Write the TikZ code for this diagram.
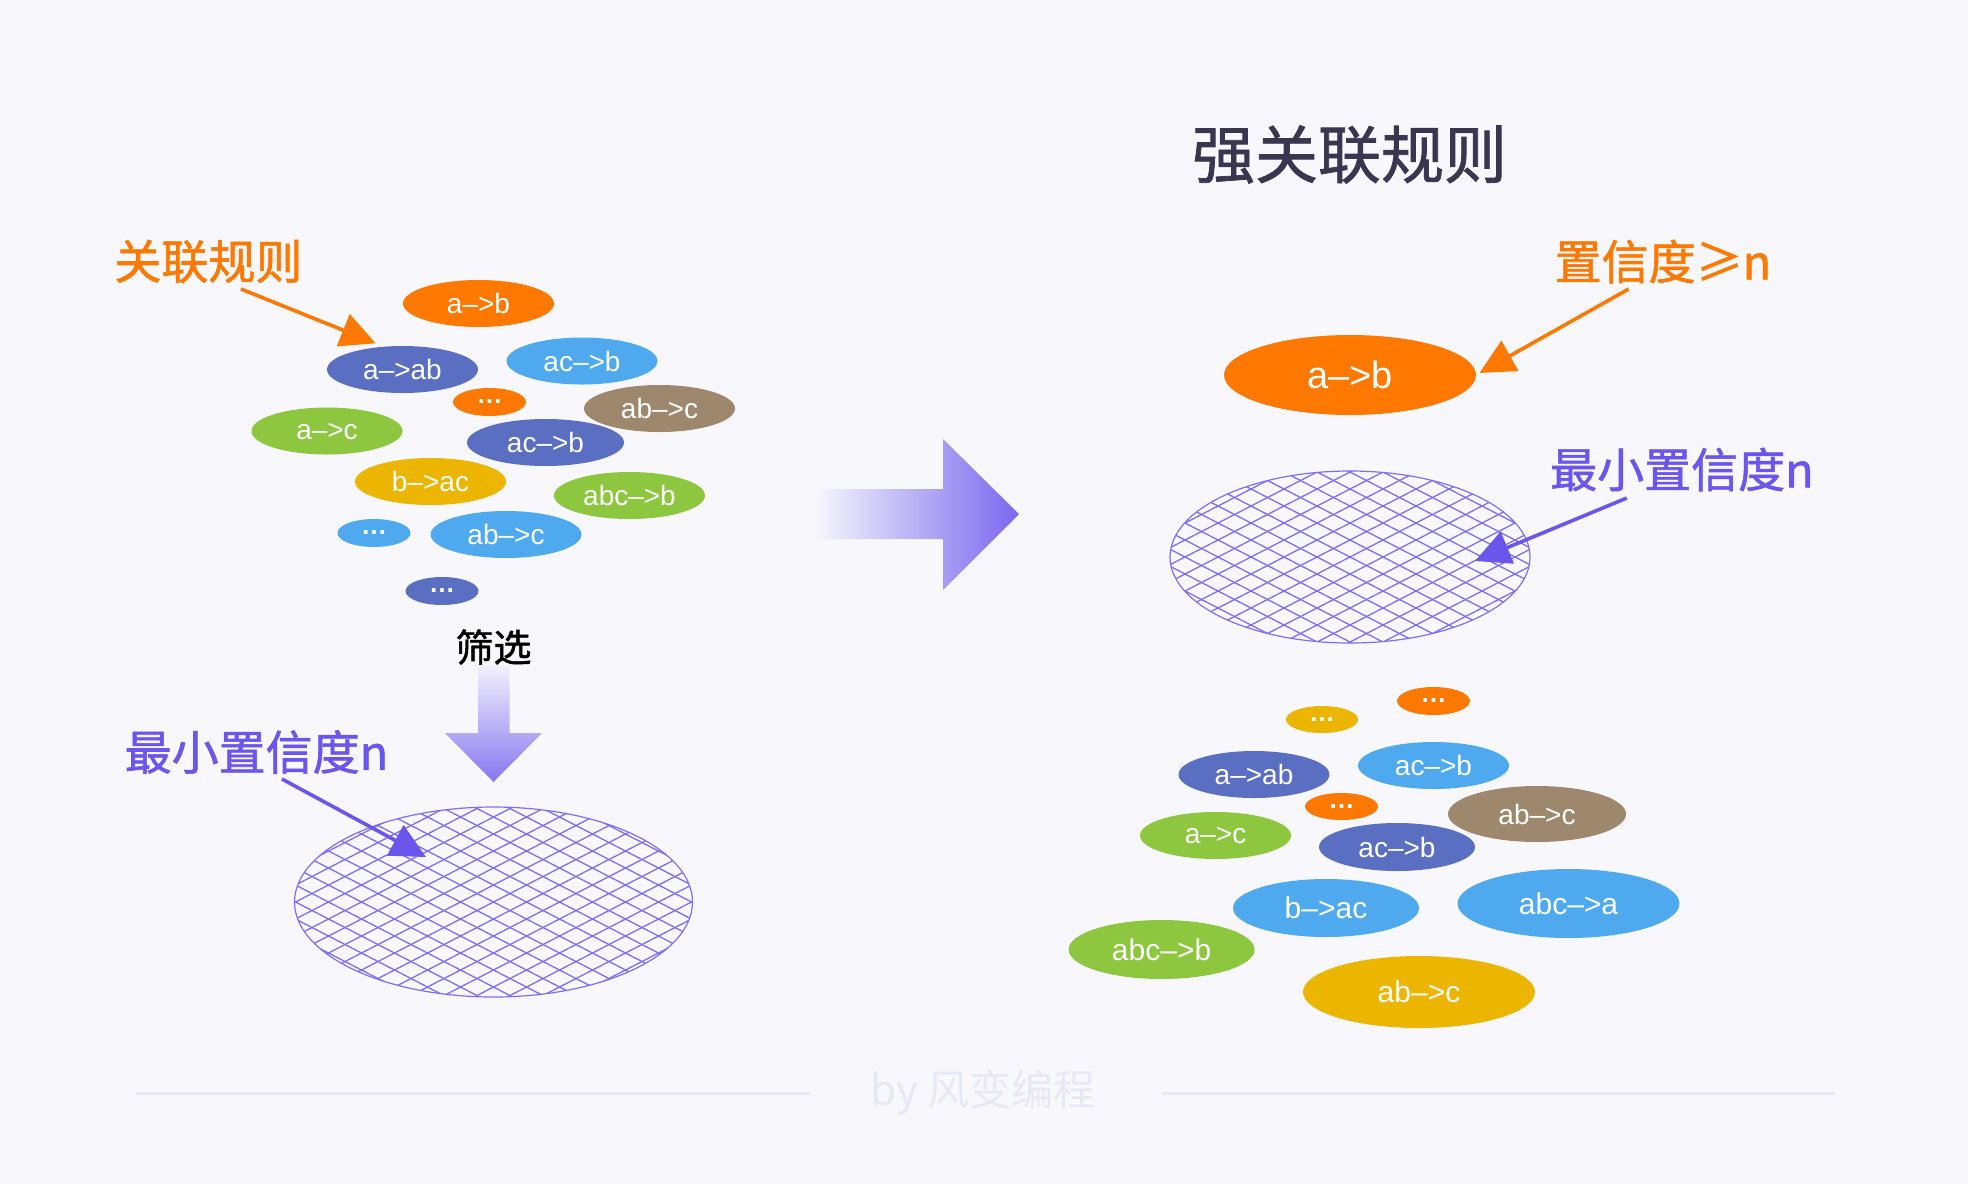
\documentclass[tikz,border=0pt]{standalone}
\usepackage{fontspec}
\usepackage{graphicx}
\usetikzlibrary{shapes.geometric,arrows.meta}
\newfontfamily\latin{Liberation Sans}
\newfontfamily\cjk{Noto Sans CJK SC}
\newfontfamily\cjkm{Noto Sans CJK SC}[BoldFont={Noto Sans CJK SC}, BoldFeatures={FakeBold=1.2}]
\definecolor{bg}{HTML}{F8F8FC}
\definecolor{cor}{HTML}{FF7800}
\definecolor{cpb}{HTML}{5B6FC2}
\definecolor{clb}{HTML}{4FA9EE}
\definecolor{cbr}{HTML}{9E886D}
\definecolor{cgr}{HTML}{8DC63F}
\definecolor{cye}{HTML}{ECB500}
\definecolor{cpu}{HTML}{6A56EC}
\definecolor{chatch}{HTML}{7E6EF0}
\definecolor{ctitle}{HTML}{3A3650}
\definecolor{cfoot}{HTML}{E6E8F6}
\definecolor{cgtop}{HTML}{F3F1FD}
\definecolor{cgbot}{HTML}{8876F0}
\definecolor{cgtip}{HTML}{7A67EE}
\tikzset{
  rule/.style={ellipse, fill=#1, text=white, inner sep=0pt, font=\latin\fontsize{14}{16}\selectfont},
  norm/.style={minimum width=75.5pt, minimum height=23.5pt},
  esize/.style 2 args={minimum width=#1, minimum height=#2},
  bigtext/.style={font=\latin\fontsize{15}{17}\selectfont},
  dots/.style={ellipse, fill=#1, text=white, inner sep=0pt, minimum width=36.5pt, minimum height=14pt, font=\latin\bfseries\fontsize{13}{14}\selectfont},
  lbl/.style={inner sep=0pt, font=\cjkm\bfseries\fontsize{23.5}{28}\selectfont},
  annot/.style={line width=1.8pt, -{Triangle[length=17.5pt,width=17pt]}},
  net/.style={ellipse, draw=chatch, line width=0.6pt, inner sep=0pt,
    path picture={
      \begin{scope}[shift={(path picture bounding box.center)}]
        \foreach \k in {-14,...,14}{
          \draw[chatch, line width=0.65pt] (\k*33-330,-170) -- (\k*33+330,170);
          \draw[chatch, line width=0.65pt] (\k*33-330,170) -- (\k*33+330,-170);
        }
      \end{scope}}},
}
\begin{document}
\begin{tikzpicture}[x=0.5pt,y=-0.5pt]
\fill[bg] (0,0) rectangle (1968,1184);
\useasboundingbox (0,0) rectangle (1968,1184);

% ---------- left cluster ----------
\node[rule=cor, norm] (l1) at (478.5,303.5) {a–>b};
\node[rule=cpb, norm] (l2) at (402.5,369.5) {a–>ab};
\node[rule=clb, norm] (l3) at (582,361) {ac–>b};
\node[dots=cor] (l4) at (489.5,402) {…};
\node[rule=cbr, norm] (l5) at (659.5,408.5) {ab–>c};
\node[rule=cgr, norm] (l6) at (327,431) {a–>c};
\node[rule=cpb, esize={78.5pt}{23.5pt}] (l7) at (545.5,442.5) {ac–>b};
\node[rule=cye, norm] (l8) at (430.5,481.5) {b–>ac};
\node[rule=cgr, norm] (l9) at (629.5,495.5) {abc–>b};
\node[dots=clb] (l10) at (374,533) {…};
\node[rule=clb, norm] (l11) at (506,534.5) {ab–>c};
\node[dots=cpb] (l12) at (442,591) {…};

\node[lbl, text=cor] (lab1) at (208.5,261.5) {关联规则};
\coordinate (s1) at (241,289);
\coordinate (t1) at (375.7,343.3);
\draw[annot, cor] (s1) -- (t1);

% filter arrow
\node[inner sep=0pt, font=\cjkm\bfseries\fontsize{19}{22}\selectfont] (flt) at (493.5,647) {筛选};
\shade[top color=cgtop, bottom color=cgbot]
  (478,665) -- (509.5,665) -- (509.5,733) -- (542,733) -- (493.5,782) -- (445,733) -- (478,733) -- cycle;

% left net
\node[net, esize={199pt}{95pt}] (net1) at (493.5,902) {};
\node[lbl, text=cpu] (lab2) at (256.5,752) {最小置信度n};
\coordinate (s2) at (282,779);
\coordinate (t2) at (426,857);
\draw[annot, cpu] (s2) -- (t2);

% big arrow
\shade[left color=bg, right color=cgtip]
  (813,489) -- (943,489) -- (943,439) -- (1019,514) -- (943,590) -- (943,539) -- (813,539) -- cycle;

% ---------- right side ----------
\node[inner sep=0pt, text=ctitle, font=\cjkm\bfseries\fontsize{31.5}{36}\selectfont] (title) at (1349.5,154.5) {强关联规则};

\node[rule=cor, esize={126pt}{40pt}, font=\latin\fontsize{19}{22}\selectfont] (r0) at (1350,375) {a–>b};
\node[lbl, text=cor] (lab3) at (1663,261.5) {置信度≥n};
\coordinate (s3) at (1628.6,289);
\coordinate (t3) at (1479.5,373);
\draw[annot, cor] (s3) -- (t3);

\node[net, esize={180pt}{86pt}] (net2) at (1350,557) {};
\node[lbl, text=cpu] (lab4) at (1682,469.5) {最小置信度n};
\coordinate (s4) at (1626.8,498);
\coordinate (t4) at (1475,561);
\draw[annot, cpu] (s4) -- (t4);

\node[dots=cye, esize={36pt}{13.5pt}] (r1) at (1322,719.5) {…};
\node[dots=cor] (r2) at (1433.5,701) {…};
\node[rule=cpb, norm] (r3) at (1254,774.5) {a–>ab};
\node[rule=clb, norm] (r4) at (1433.5,765.5) {ac–>b};
\node[dots=cor, esize={36.5pt}{13.5pt}] (r5) at (1341.5,806.5) {…};
\node[rule=cbr, esize={89pt}{28pt}] (r6) at (1537,814) {ab–>c};
\node[rule=cgr, norm] (r7) at (1215.5,835.5) {a–>c};
\node[rule=cpb, esize={78pt}{24pt}] (r8) at (1397,847) {ac–>b};
\node[rule=clb, bigtext, esize={93pt}{29pt}] (r9) at (1326,908) {b–>ac};
\node[rule=clb, bigtext, esize={111pt}{34.5pt}] (r10) at (1568.5,903.5) {abc–>a};
\node[rule=cgr, bigtext, esize={93pt}{29.5pt}] (r11) at (1161.6,949.5) {abc–>b};
\node[rule=cye, bigtext, esize={116pt}{36pt}] (r12) at (1419,992) {ab–>c};

% ---------- footer ----------
\node[inner sep=0pt, text=cfoot, font=\cjk\fontsize{21}{24}\selectfont] (foot) at (983,1093) {by 风变编程};
\draw[cfoot, line width=1.5pt] (136,1093) -- (810,1093);
\draw[cfoot, line width=1.5pt] (1162,1093) -- (1835,1093);
\end{tikzpicture}
\end{document}
